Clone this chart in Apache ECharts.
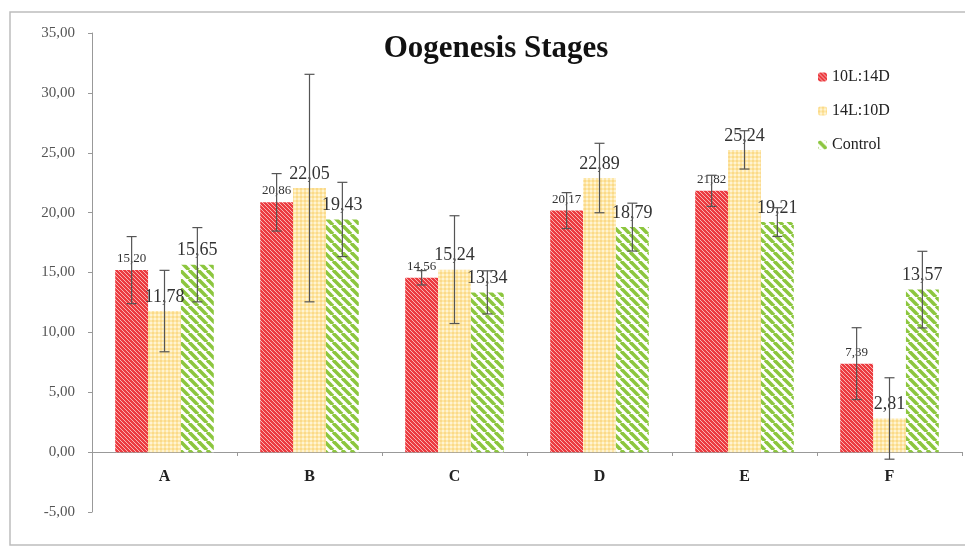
<!DOCTYPE html>
<html>
<head>
<meta charset="utf-8">
<script src="https://cdn.jsdelivr.net/npm/echarts@6/dist/echarts.min.js"></script>
<style>
  html, body { margin: 0; padding: 0; background: #fff; }
  #chart { width: 965px; height: 550px; }
</style>
</head>
<body>
<div id="chart"></div>
<script>
const categories = ['A', 'B', 'C', 'D', 'E', 'F'];
const seriesNames = ['10L:14D', '14L:10D', 'Control'];
const short = [15.20, 20.86, 14.56, 20.17, 21.82, 7.39];
const long = [11.78, 22.05, 15.24, 22.89, 25.24, 2.81];
const control = [15.65, 19.43, 13.34, 18.79, 19.21, 13.57];
const shortErr = [2.8, 2.4, 0.6, 1.5, 1.3, 3.0];
const longErr = [3.4, 9.5, 4.5, 2.9, 1.6, 3.4];
const controlErr = [3.1, 3.1, 1.8, 2.0, 1.2, 3.2];
const yTicks = [-5, 0, 5, 10, 15, 20, 25, 30, 35];

const fmt = v => v.toFixed(2).replace('.', ',');
const serif = '"Liberation Serif", "DejaVu Serif", serif';

// small canvases used as fill patterns
const makePattern = (size, draw) => {
  const c = document.createElement('canvas');
  c.width = size;
  c.height = size;
  draw(c.getContext('2d'), size);
  return { image: c, repeat: 'repeat' };
};

const stripes = (bg, fg, size, lw) => makePattern(size, (ctx, s) => {
  ctx.fillStyle = bg;
  ctx.fillRect(0, 0, s, s);
  ctx.strokeStyle = fg;
  ctx.lineWidth = lw;
  for (let k = -1; k <= 1; k++) {
    ctx.beginPath();
    ctx.moveTo(k * s, 0);
    ctx.lineTo(k * s + s, s);
    ctx.stroke();
  }
});

const redFill = stripes('#ec3b40', '#f8b4b2', 4, 1);
const greenFill = stripes('#ffffff', '#8cc63e', 9, 3.6);
const yellowFill = makePattern(4, (ctx, s) => {
  ctx.fillStyle = '#fde7a6';
  ctx.fillRect(0, 0, s, s);
  ctx.fillStyle = '#fbd989';
  ctx.fillRect(0, 0, 2, 2);
  ctx.fillStyle = '#fff3d3';
  ctx.fillRect(2, 2, 2, 2);
});

const fills = [redFill, yellowFill, greenFill];
const values = [short, long, control];
const errs = [shortErr, longErr, controlErr];
const labelSizes = [13, 18, 18];

const catGap = 0.32;

const barSeries = seriesNames.map((name, i) => ({
  name,
  type: 'bar',
  barGap: 0,
  barCategoryGap: '32%',
  itemStyle: { color: fills[i] },
  label: {
    show: true,
    position: 'top',
    distance: 5,
    fontFamily: serif,
    fontSize: labelSizes[i],
    color: '#333',
    formatter: p => fmt(p.value)
  },
  data: values[i]
}));

const errSeries = seriesNames.map((name, i) => ({
  type: 'custom',
  silent: true,
  z: 5,
  renderItem: (params, api) => {
    const x = api.value(0);
    const lo = api.coord([x, api.value(1)]);
    const hi = api.coord([x, api.value(2)]);
    const bw = api.size([1, 0])[0] * (1 - catGap) / 3;
    const cx = lo[0] + (i - 1) * bw;
    const cap = 5;
    const style = { stroke: '#555', lineWidth: 1.2 };
    return {
      type: 'group',
      children: [
        { type: 'line', shape: { x1: cx, y1: lo[1], x2: cx, y2: hi[1] }, style },
        { type: 'line', shape: { x1: cx - cap, y1: lo[1], x2: cx + cap, y2: lo[1] }, style },
        { type: 'line', shape: { x1: cx - cap, y1: hi[1], x2: cx + cap, y2: hi[1] }, style }
      ]
    };
  },
  encode: { x: 0, y: [1, 2] },
  data: values[i].map((v, j) => [j, v - errs[i][j], v + errs[i][j]])
}));

const chart = echarts.init(document.getElementById('chart'));
chart.setOption({
  animation: false,
  title: {
    text: 'Oogenesis Stages',
    left: 491,
    top: 28,
    textAlign: 'center',
    textStyle: { fontFamily: serif, fontSize: 31, fontWeight: 'bold', color: '#111' }
  },
  legend: {
    orient: 'vertical',
    left: 813,
    top: 64,
    itemWidth: 9,
    itemHeight: 9,
    itemGap: 18,
    textStyle: { fontFamily: serif, fontSize: 16, color: '#222' },
    data: seriesNames
  },
  graphic: [{
    type: 'rect',
    shape: { x: 10, y: 12, width: 965, height: 533 },
    style: { fill: 'none', stroke: '#bdbdbd', lineWidth: 1.5 },
    silent: true,
    z: -1
  }],
  grid: { left: 92, right: 3, top: 33, bottom: 38 },
  xAxis: {
    type: 'category',
    data: categories,
    // the zero line sits one 5-unit step above the bottom of the grid
    offset: -60,
    axisLine: { onZero: false, lineStyle: { color: '#999' } },
    axisTick: { show: true, length: 4, lineStyle: { color: '#999' } },
    axisLabel: { fontFamily: serif, fontSize: 16, fontWeight: 'bold', color: '#222', margin: 17 }
  },
  yAxis: {
    type: 'value',
    min: yTicks[0],
    max: yTicks[yTicks.length - 1],
    interval: 5,
    axisLine: { show: true, lineStyle: { color: '#999' } },
    axisTick: { show: true, length: 4, lineStyle: { color: '#999' } },
    splitLine: { show: false },
    axisLabel: { fontFamily: serif, fontSize: 15, color: '#555', margin: 17, formatter: v => fmt(v) }
  },
  series: [...barSeries, ...errSeries]
});
</script>
</body>
</html>
